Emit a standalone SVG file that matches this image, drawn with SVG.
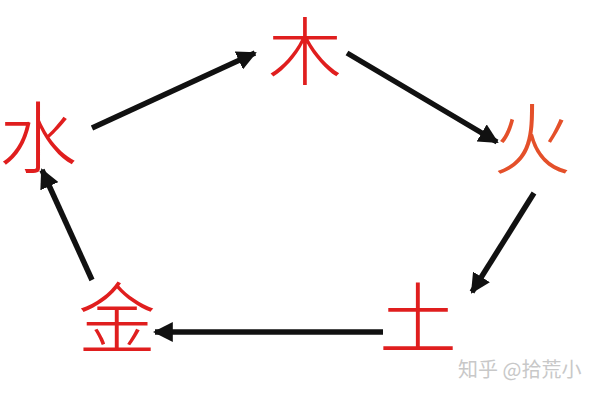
<svg xmlns="http://www.w3.org/2000/svg" width="600" height="400" viewBox="0 0 600 400">
<style>
.el{font-family:"Noto Sans CJK SC","Noto Sans CJK JP",sans-serif;font-size:78px;font-weight:300;text-anchor:middle;fill:#e01e1e}
.fire{fill:#e4502a}
.c{stroke:#111;stroke-width:5.5;fill:none;marker-end:url(#ah)}
.wm{font-family:"Noto Sans CJK SC","Noto Sans CJK JP",sans-serif;font-size:20px;fill:#c8c8c8}
</style>
<defs>
<marker id="ah" viewBox="0 0 10 10" refX="9" refY="5" markerWidth="3.6" markerHeight="3.6" orient="auto" markerUnits="strokeWidth">
<path d="M0,0 L10,5 L0,10 Z" fill="#111"/>
</marker>
</defs>
<rect width="600" height="400" fill="#fff"/>
<g id="node-wood"><text class="el" x="305" y="79" style="font-size:74px">木</text></g>
<g id="node-fire"><text class="el fire" x="532" y="168">火</text></g>
<g id="node-earth"><text class="el" x="418" y="348">土</text></g>
<g id="node-metal"><text class="el" x="117" y="348">金</text></g>
<g id="node-water"><text class="el" x="38" y="167">水</text></g>
<g id="connectors">
<line class="c" x1="92" y1="128" x2="255" y2="53"/>
<line class="c" x1="347" y1="53" x2="497" y2="142"/>
<line class="c" x1="534" y1="193" x2="472" y2="292"/>
<line class="c" x1="383" y1="332" x2="155" y2="332"/>
<line class="c" x1="92" y1="280" x2="42" y2="170"/>
</g>
<text class="wm" x="458" y="377">知乎 @拾荒小</text>
</svg>
